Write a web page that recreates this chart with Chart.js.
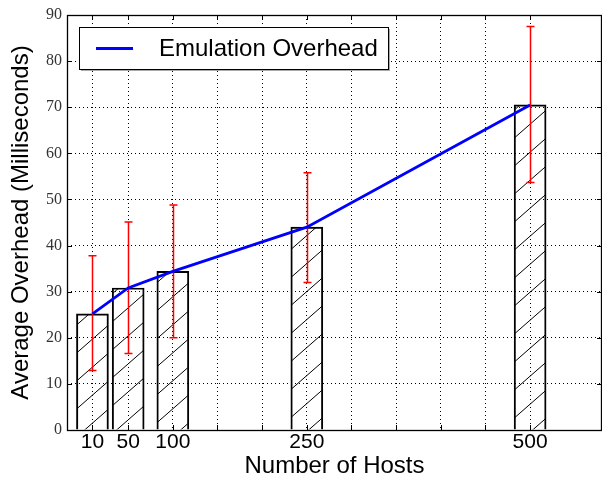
<!DOCTYPE html>
<html>
<head>
<meta charset="utf-8">
<script src="https://cdn.jsdelivr.net/npm/chart.js@4"></script>
<style>
  html, body { margin: 0; padding: 0; background: #fff; }
</style>
</head>
<body>
<canvas id="overheadChart" width="602" height="483"></canvas>
<script>
const hosts = [10, 50, 100, 250, 500];
const meanOverhead = [25.2, 30.8, 34.4, 44.0, 70.5];
const errLow = [12.9, 16.6, 20.0, 32.0, 53.7];
const errHigh = [37.8, 45.1, 48.8, 55.8, 87.5];
const xTicks = [10, 50, 100, 150, 200, 250, 300, 350, 400, 450, 500];
const xTickLabels = ['10', '50', '100', '', '', '250', '', '', '', '', '500'];
const seriesLabel = 'Emulation Overhead';

Chart.defaults.color = '#000';
const sans = '"Liberation Sans", Arial, sans-serif';

// diagonal "/" hatch like matplotlib
function makeHatch() {
  const c = document.createElement('canvas');
  c.width = 32; c.height = 28;
  const g = c.getContext('2d');
  g.strokeStyle = '#000';
  g.lineWidth = 1;
  g.beginPath();
  g.moveTo(-32, 28); g.lineTo(0, 0);
  g.moveTo(0, 28); g.lineTo(32, 0);
  g.moveTo(32, 28); g.lineTo(64, 0);
  g.stroke();
  return g.createPattern(c, 'repeat');
}

const errorBars = {
  id: 'errorBars',
  afterDatasetDraw(chart, args) {
    if (args.index !== 0) return;
    const {ctx, scales: {x, y}} = chart;
    ctx.save();
    ctx.strokeStyle = '#ff0000';
    ctx.lineWidth = 1.5;
    ctx.beginPath();
    hosts.forEach((h, i) => {
      const px = Math.round(x.getPixelForValue(h)) + 0.5;
      const lo = y.getPixelForValue(errLow[i]);
      const hi = y.getPixelForValue(errHigh[i]);
      ctx.moveTo(px, lo); ctx.lineTo(px, hi);
      ctx.moveTo(px - 4, lo); ctx.lineTo(px + 4, lo);
      ctx.moveTo(px - 4, hi); ctx.lineTo(px + 4, hi);
    });
    ctx.stroke();
    ctx.restore();
  }
};

const frameAndTicks = {
  id: 'frameAndTicks',
  afterDraw(chart) {
    const {ctx, chartArea: a, scales: {x, y}} = chart;
    ctx.save();
    ctx.strokeStyle = '#000';
    ctx.lineWidth = 1;
    ctx.beginPath();
    xTicks.forEach(v => {
      const px = Math.round(x.getPixelForValue(v)) + 0.5;
      ctx.moveTo(px, a.bottom); ctx.lineTo(px, a.bottom - 5);
      ctx.moveTo(px, a.top); ctx.lineTo(px, a.top + 5);
    });
    y.ticks.forEach(t => {
      const py = Math.round(y.getPixelForValue(t.value)) + 0.5;
      ctx.moveTo(a.left, py); ctx.lineTo(a.left + 5, py);
      ctx.moveTo(a.right, py); ctx.lineTo(a.right - 5, py);
    });
    ctx.stroke();
    ctx.lineWidth = 1.3;
    ctx.strokeRect(a.left + 0.5, a.top + 0.5, a.right - a.left - 1, a.bottom - a.top);

    // legend box
    const lx = 79.5, ly = 27.5, lw = 309, lh = 42;
    ctx.fillStyle = '#aaa';
    ctx.fillRect(lx + 1.5, ly + 1.5, lw, lh);
    ctx.fillStyle = '#fff';
    ctx.fillRect(lx, ly, lw, lh);
    ctx.lineWidth = 1;
    ctx.strokeRect(lx, ly, lw, lh);
    const ds = chart.data.datasets[1];
    ctx.strokeStyle = ds.borderColor;
    ctx.lineWidth = ds.borderWidth;
    ctx.beginPath();
    ctx.moveTo(96, ly + lh / 2); ctx.lineTo(133, ly + lh / 2);
    ctx.stroke();
    ctx.fillStyle = '#000';
    ctx.font = '24px ' + sans;
    ctx.textBaseline = 'middle';
    ctx.fillText(ds.label, 159, ly + lh / 2 + 1);
    ctx.restore();
  }
};

const points = hosts.map((h, i) => ({x: h, y: meanOverhead[i]}));

new Chart(document.getElementById('overheadChart'), {
  type: 'bar',
  data: {
    datasets: [{
      type: 'bar',
      label: 'bars',
      data: points,
      backgroundColor: makeHatch(),
      borderColor: '#000',
      borderWidth: 1.3,
      barThickness: 32,
      order: 2
    }, {
      type: 'line',
      label: seriesLabel,
      data: points,
      borderColor: '#0000ff',
      borderWidth: 2.8,
      pointRadius: 0,
      fill: false,
      tension: 0,
      order: 1
    }]
  },
  options: {
    responsive: false,
    animation: false,
    layout: { padding: { top: 15, right: 0, left: 0, bottom: 0 } },
    plugins: { legend: { display: false }, tooltip: { enabled: false } },
    scales: {
      x: {
        type: 'linear',
        offset: false,
        min: -18.5,
        max: 580.5,
        afterBuildTicks: s => { s.ticks = xTicks.map(v => ({value: v})); },
        afterFit: s => { s.height = 53; },
        grid: { color: '#000', lineWidth: 1, drawTicks: false, offset: false },
        border: { display: false, dash: [1, 3] },
        ticks: {
          autoSkip: false, maxRotation: 0, padding: 0,
          font: { family: sans, size: 21 },
          callback: (v, i) => xTickLabels[i]
        },
        title: {
          display: true, text: 'Number of Hosts',
          font: { family: sans, size: 24 },
          padding: { top: 0, bottom: 2 }
        }
      },
      y: {
        min: 0,
        max: 90,
        afterFit: s => { s.width = 67; },
        grid: { color: '#000', lineWidth: 1, drawTicks: false },
        border: { display: false, dash: [1, 3] },
        ticks: {
          stepSize: 10, padding: 5, color: '#333',
          font: { family: '"Liberation Serif", "Times New Roman", serif', size: 16 }
        },
        title: {
          display: true, text: 'Average Overhead (Milliseconds)',
          font: { family: sans, size: 24 },
          padding: { top: 7, bottom: 0 }
        }
      }
    }
  },
  plugins: [errorBars, frameAndTicks]
});
</script>
</body>
</html>
